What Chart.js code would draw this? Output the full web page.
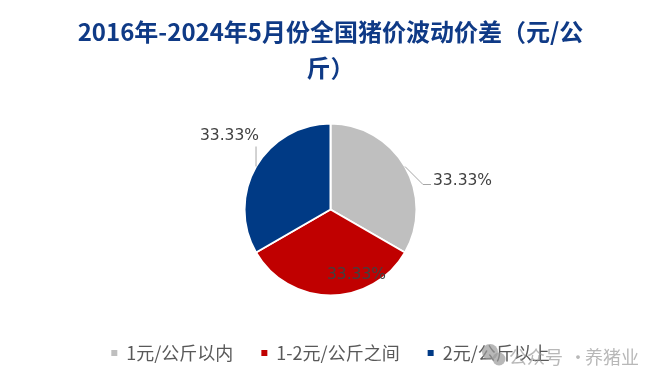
<!DOCTYPE html>
<html>
<head>
<meta charset="utf-8">
<script src="https://cdn.jsdelivr.net/npm/chart.js@4/dist/chart.umd.min.js"></script>
<style>
  html, body { margin: 0; padding: 0; background: #fff; }
  #wrap { width: 661px; height: 383px; position: relative; }
</style>
</head>
<body>
<div id="wrap"><canvas id="chart"></canvas></div>
<script>
// 2016-2024.5 national hog price swing spread, share of months by band
const categories = ['1元/公斤以内', '1-2元/公斤之间', '2元/公斤以上'];
const shares = [1, 1, 1];
const titleLines = ['2016年-2024年5月份全国猪价波动价差（元/公', '斤）'];

const sliceColors = ['#BFBFBF', '#C00000', '#003A85'];

// where each percentage label sits, relative to the slice's outer mid point
const labelPlacement = [
  { leader: [[18, 18], [26, 18]], dx: 28, dy: 14, align: 'left' },
  { leader: null, dx: 26, dy: -21, align: 'center' },
  { leader: [[0, -20]], dx: 3, dy: -31, align: 'right' },
];

const pieLabels = {
  id: 'pieLabels',
  afterDatasetsDraw(chart) {
    const { ctx } = chart;
    const meta = chart.getDatasetMeta(0);
    const values = chart.data.datasets[0].data;
    const total = values.reduce((a, b) => a + b, 0);
    meta.data.forEach((arc, i) => {
      const p = arc.getProps(['x', 'y', 'startAngle', 'endAngle', 'outerRadius'], true);
      const mid = (p.startAngle + p.endAngle) / 2;
      const ex = p.x + Math.cos(mid) * p.outerRadius;
      const ey = p.y + Math.sin(mid) * p.outerRadius;
      const cfg = labelPlacement[i];
      ctx.save();
      if (cfg.leader) {
        ctx.strokeStyle = '#A6A6A6';
        ctx.lineWidth = 1;
        ctx.beginPath();
        ctx.moveTo(ex, ey);
        cfg.leader.forEach(([lx, ly]) => ctx.lineTo(ex + lx, ey + ly));
        ctx.stroke();
      }
      ctx.fillStyle = '#404040';
      ctx.font = '15.5px "DejaVu Sans"';
      ctx.textAlign = cfg.align;
      ctx.textBaseline = 'middle';
      ctx.fillText((values[i] / total * 100).toFixed(2) + '%', ex + cfg.dx, ey + cfg.dy);
      ctx.restore();
    });
  }
};

const watermark = {
  id: 'watermark',
  afterDraw(chart) {
    const { ctx } = chart;
    ctx.save();
    ctx.globalAlpha = 0.7;
    ctx.fillStyle = '#9A9A9A';
    ctx.beginPath();
    ctx.arc(490, 352, 8, 0, Math.PI * 2);
    ctx.fill();
    ctx.beginPath();
    ctx.arc(499, 359, 6.5, 0, Math.PI * 2);
    ctx.fill();
    ctx.font = '18px "Noto Sans CJK SC"';
    ctx.textBaseline = 'middle';
    ctx.fillText('公众号', 509, 357);
    ctx.fillText('·', 569, 357);
    ctx.fillText('养猪业', 585, 357);
    ctx.restore();
  }
};

new Chart(document.getElementById('chart'), {
  type: 'pie',
  data: {
    labels: categories,
    datasets: [{
      data: shares,
      backgroundColor: sliceColors,
      borderColor: '#FFFFFF',
      borderWidth: 2,
      radius: 86,
      hoverOffset: 0,
    }]
  },
  options: {
    responsive: true,
    maintainAspectRatio: false,
    animation: false,
    layout: { padding: { top: 0, bottom: 11 } },
    plugins: {
      title: {
        display: true,
        text: titleLines,
        color: '#0F3A86',
        font: { family: 'Noto Sans CJK SC', size: 24, weight: 'bold', lineHeight: 1.5 },
        padding: { top: 14, bottom: 17 }
      },
      legend: {
        position: 'bottom',
        labels: {
          color: '#595959',
          font: { family: 'Noto Sans CJK SC', size: 18 },
          boxWidth: 6,
          boxHeight: 6,
          padding: 28,
          generateLabels: (chart) =>
            Chart.overrides.pie.plugins.legend.labels.generateLabels(chart)
              .map(l => ({ ...l, lineWidth: 0 }))
        }
      },
      tooltip: { enabled: false }
    }
  },
  plugins: [pieLabels, watermark]
});
</script>
</body>
</html>
